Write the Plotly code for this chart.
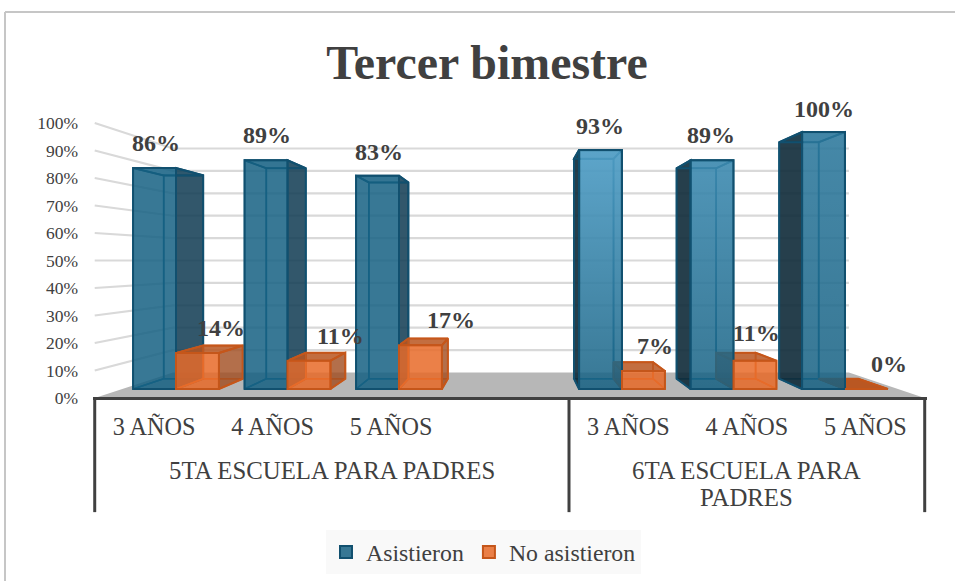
import numpy as np
import plotly.graph_objects as go

# ---------- data ----------
categories = ["3 AÑOS", "4 AÑOS", "5 AÑOS", "", "3 AÑOS", "4 AÑOS", "5 AÑOS"]
group_lines = [["5TA ESCUELA PARA PADRES"], ["6TA ESCUELA PARA", "PADRES"]]
group_spans = [(-0.5, 3.5), (3.5, 6.5)]
asistieron = [86, 89, 83, None, 93, 89, 100]
no_asistieron = [14, 11, 17, None, 7, 11, 0]
y_ticks = list(range(0, 101, 10))

# ---------- style / geometry ----------
W, H = 955, 581
FONT = "Liberation Serif"
TXT = "#404040"
BLUE_LINE, ORANGE_LINE = "#11506f", "#c5561a"
BLUE_FILL, ORANGE_FILL = "rgba(21,96,130,0.85)", "rgba(232,106,40,0.85)"
# axis plane: category centre px, px per category, value-0 px, px per unit
AX = dict(x0=154, dx=118.57, y0=398, dy=2.75)
# front plane of the columns
FR = dict(x0=176, dx=111.5, y0=389, dy=2.57)
VX, VV = 3.05, 50.0      # vanishing point in front-plane units
DEPTH = 0.92             # scale of the back of a column
WALL = 0.8145            # scale of the back wall, relative to the axis plane
BAR_W = 0.385
sheen = [0, 0, 0, 0, 0.5, 0.33, 0.18]
lab_dx_blue = [1, 1, 1, 0, -1, -1, 0]
lab_dx_orange = [24, 32, 31, 0, 12, 2, 23]
lab_dy_blue = [25, 25, 24, 0, 24, 25, 23]
lab_dy_orange = [25, 25, 25, 0, 25, 28, 25]
DOM_L, DOM_R = 93, 927


def rng(p0, p1, o):
    return [(p0 - o["x0"]) / o["dx"], (p1 - o["x0"]) / o["dx"]]


def yrng(o):
    return [(o["y0"] - H) / o["dy"], o["y0"] / o["dy"]]


def back(i, v):
    return VX + DEPTH * (i - VX), VV + DEPTH * (v - VV)


fig = go.Figure()

# ---------- axis plane: floor, walls ----------
AVX = (516 - AX["x0"]) / AX["dx"]
AVV = (AX["y0"] - 260.6) / AX["dy"]
def wall(i, v):
    return AVX + WALL * (i - AVX), AVV + WALL * (v - AVV)

xl, xr = -0.5, 6.5
pts = [(xl, 0), (xr, 0), wall(xr, 0), wall(xl, 0), (xl, 0)]
fig.add_trace(go.Scatter(x=[p[0] for p in pts], y=[p[1] for p in pts], mode="lines", fill="toself",
                         fillcolor="#b7b7b7", line=dict(width=0), showlegend=False, hoverinfo="skip"))
for t in y_ticks[1:]:
    a = (xl, t)
    b = wall(xl, t)
    c = wall(xr, t)
    fig.add_trace(go.Scatter(x=[a[0], b[0], c[0]], y=[a[1], b[1], c[1]], mode="lines",
                             line=dict(color="#d9d9d9", width=2.2), showlegend=False, hoverinfo="skip"))
# multi-level category dividers
for xd in sorted({s for span in group_spans for s in span}):
    fig.add_trace(go.Scatter(x=[xd, xd], y=[0, -41.5], mode="lines", line=dict(color=TXT, width=3),
                             showlegend=False, hoverinfo="skip"))


# ---------- 3-D boxes (side faces on the middle subplot) ----------
def poly(pts, fill, line, width=1.6):
    xs = [p[0] for p in pts] + [pts[0][0]]
    ys = [p[1] for p in pts] + [pts[0][1]]
    fig.add_trace(go.Scatter(x=xs, y=ys, mode="lines", fill="toself" if fill else "none",
                             fillcolor=fill, line=dict(color=line, width=width),
                             xaxis="x2", yaxis="y2", showlegend=False, hoverinfo="skip"))


def box(l, r, v, line, side, top, dim_side):
    centre = (l + r) / 2
    outer, inner = (r, l) if centre < VX else (l, r)
    poly([back(l, 0), back(r, 0), back(r, v), back(l, v)], None, dim_side)
    poly([(inner, 0), back(inner, 0), back(inner, v), (inner, v)], None, dim_side)
    poly([(l, 0), (r, 0), back(r, 0), back(l, 0)], top if v == 0 else None, line if v == 0 else dim_side)
    poly([(outer, 0), back(outer, 0), back(outer, v), (outer, v)], side, line, 2)
    poly([(l, v), (r, v), back(r, v), back(l, v)], top, line, 2)


for i, v in enumerate(asistieron):
    if v is not None:
        dark = "rgba(20,62,85,0.87)" if i < 3 else "rgba(14,42,56,0.9)"
        box(i - BAR_W, i, v, BLUE_LINE, dark, "rgba(21,96,130,0.12)", "#1a6587")
for i, v in enumerate(no_asistieron):
    if v is not None:
        box(i, i + BAR_W, v, ORANGE_LINE, "rgba(160,75,30,0.8)", "rgba(185,85,30,0.85)", "#e0702f")

# ---------- front faces: real bars ----------
idx = list(range(len(categories)))
fig.add_trace(go.Bar(x=idx, y=asistieron, name="Asistieron", width=BAR_W, offset=-BAR_W,
                     marker=dict(color=BLUE_FILL, line=dict(color=BLUE_LINE, width=2)),
                     xaxis="x3", yaxis="y3", hoverinfo="skip"))
fig.add_trace(go.Bar(x=idx, y=no_asistieron, name="No asistieron", width=BAR_W, offset=0,
                     marker=dict(color=ORANGE_FILL, line=dict(color=ORANGE_LINE, width=2)),
                     xaxis="x3", yaxis="y3", hoverinfo="skip"))
for i, v in enumerate(asistieron):
    if v is not None and sheen[i] > 0:
        fig.add_trace(go.Scatter(
            x=[i - BAR_W + .012, i - .012, i - .012, i - BAR_W + .012, i - BAR_W + .012],
            y=[0.5, 0.5, v - .5, v - .5, 0.5],
            mode="none", fill="toself",
            fillgradient=dict(type="vertical", colorscale=[[0, "rgba(130,210,255,0)"],
                                                           [1, f"rgba(130,210,255,{sheen[i]})"]]),
            xaxis="x3", yaxis="y3", showlegend=False, hoverinfo="skip"))

# ---------- data labels ----------
ann = []
for series, dxs, dys in ((asistieron, lab_dx_blue, lab_dy_blue), (no_asistieron, lab_dx_orange, lab_dy_orange)):
    off = -BAR_W / 2 if series is asistieron else BAR_W / 2
    for i, v in enumerate(series):
        if v is not None:
            ann.append(dict(x=i + off, y=v, xref="x3", yref="y3", text=f"{v}%", showarrow=False,
                            xshift=dxs[i], yshift=dys[i], xanchor="center", yanchor="middle",
                            font=dict(family=FONT, size=24, color=TXT, weight="bold")))
# group labels (one text per wrapped line, 27 px apart)
for lines, (a, b) in zip(group_lines, group_spans):
    for n, line in enumerate(lines):
        ann.append(dict(x=(a + b) / 2, y=-26.2, xref="x", yref="y", text=line, showarrow=False,
                        yshift=-27 * n, xanchor="center", yanchor="middle",
                        font=dict(family=FONT, size=24.8, color=TXT)))

xr1 = rng(DOM_L, DOM_R, AX)
xr2 = rng(DOM_L, DOM_R, FR)
dom = [DOM_L / W, DOM_R / W]

fig.update_layout(
    width=W, height=H, margin=dict(l=0, r=0, t=0, b=0, pad=0, autoexpand=False),
    paper_bgcolor="white", plot_bgcolor="rgba(0,0,0,0)",
    barmode="overlay", hovermode=False,
    font=dict(family=FONT, color=TXT),
    title=dict(text="Tercer bimestre", x=487 / W, y=1 - 62 / H, xanchor="center", yanchor="middle",
               xref="paper", yref="paper", font=dict(family=FONT, size=47.9, color=TXT, weight="bold")),
    xaxis=dict(domain=dom, range=xr1, anchor="free", position=(H - AX["y0"]) / H,
               tickmode="array", tickvals=[i for i, c in enumerate(categories) if c],
               ticktext=[c for c in categories if c], showgrid=False, zeroline=False,
               showline=True, linecolor=TXT, linewidth=3, ticks="", ticklabelstandoff=6,
               tickfont=dict(family=FONT, size=24.2, color=TXT)),
    yaxis=dict(domain=[0, 1], range=yrng(AX), anchor="x", tickmode="array", tickvals=y_ticks,
               ticktext=[f"{t}%" for t in y_ticks], showgrid=False, zeroline=False, showline=False,
               ticks="", ticklabelstandoff=14, tickfont=dict(family=FONT, size=17.5, color=TXT)),
    xaxis2=dict(domain=dom, range=xr2, overlaying="x", visible=False, anchor="y2"),
    yaxis2=dict(domain=[0, 1], range=yrng(FR), overlaying="y", visible=False, anchor="x2"),
    xaxis3=dict(domain=dom, range=xr2, overlaying="x", visible=False, anchor="y3"),
    yaxis3=dict(domain=[0, 1], range=yrng(FR), overlaying="y", visible=False, anchor="x3"),
    legend=dict(orientation="h", x=326 / W, y=1 - 530 / H, xanchor="left", yanchor="top",
                bgcolor="#f9f9f9", font=dict(family=FONT, size=23.8, color=TXT),
                itemclick=False, itemdoubleclick=False, traceorder="normal"),
    annotations=ann,
    shapes=[
        dict(type="line", xref="paper", yref="paper", x0=5 / W, x1=1, y0=1 - 12 / H, y1=1 - 12 / H,
             line=dict(color="#c6c6c6", width=2)),
        dict(type="line", xref="paper", yref="paper", x0=5 / W, x1=5 / W, y0=0, y1=1 - 12 / H,
             line=dict(color="#c6c6c6", width=2)),
    ],
)

fig.write_html("out.html", config={"displayModeBar": False},
               post_script="document.body.style.margin='0';document.body.style.overflow='hidden';")
